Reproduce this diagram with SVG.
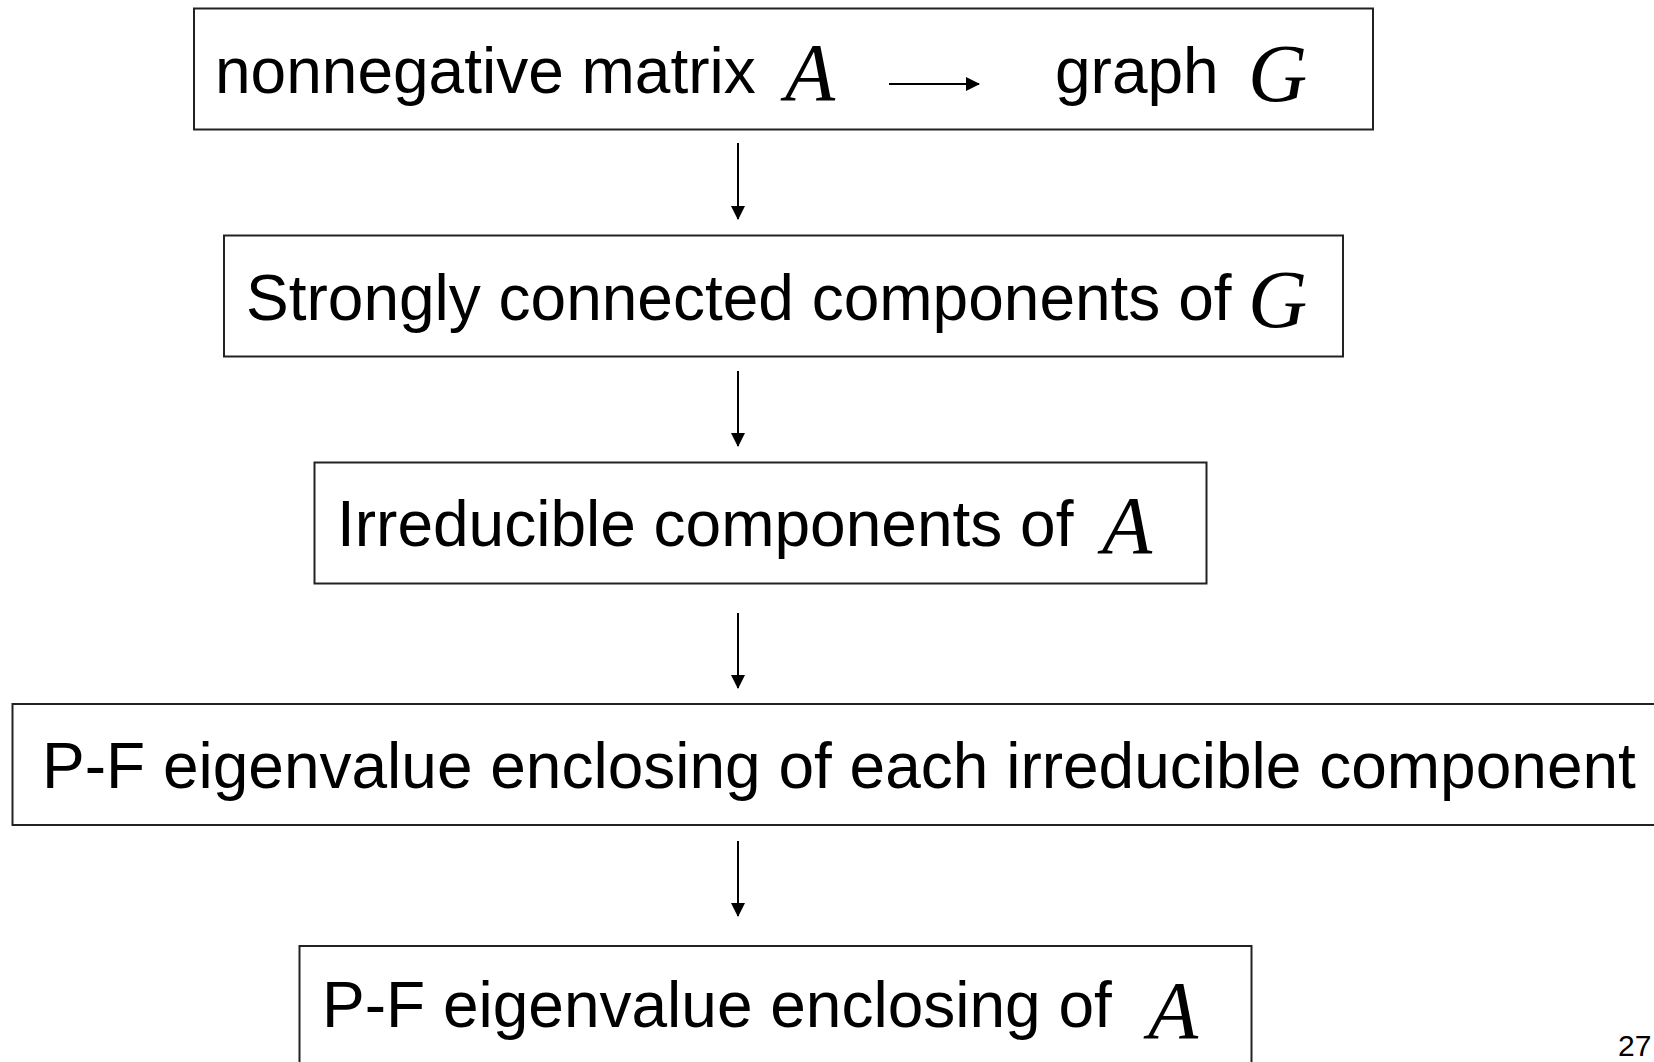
<svg xmlns="http://www.w3.org/2000/svg" width="1654" height="1062" viewBox="0 0 1654 1062">
<style>
.box{fill:#fff;stroke:#222;stroke-width:2}
.t{font-family:"Liberation Sans",Arial,sans-serif;font-size:64px;fill:#000}
.m{font-family:"Liberation Serif","Times New Roman",serif;font-style:italic;font-size:82px;fill:#000}
.c{stroke:#000;stroke-width:2;fill:none}
</style>
<defs>
<marker id="ah" markerWidth="14" markerHeight="14" refX="13" refY="7" orient="auto" markerUnits="userSpaceOnUse">
<path d="M0,0 L14,7 L0,14 Z" fill="#000"/>
</marker>
</defs>
<rect width="1654" height="1062" fill="#fff"/>
<g id="n1">
<rect class="box" x="194" y="8.5" width="1179" height="121"/>
<text class="t" x="215" y="93">nonnegative matrix</text>
<text class="m" x="785" y="100">A</text>
<line class="c" x1="889" y1="84" x2="979" y2="84" marker-end="url(#ah)"/>
<text class="t" x="1055" y="93">graph</text>
<text class="m" x="1248" y="101">G</text>
</g>
<g id="n2">
<rect class="box" x="224" y="235.5" width="1119" height="121"/>
<text class="t" x="246" y="320">Strongly connected components of</text>
<text class="m" x="1248" y="327">G</text>
</g>
<g id="n3">
<rect class="box" x="314.5" y="462.5" width="892" height="121"/>
<text class="t" x="337" y="546">Irreducible components of</text>
<text class="m" x="1102" y="553">A</text>
</g>
<g id="n4">
<rect class="box" x="12.5" y="704" width="1660" height="121"/>
<text class="t" x="42" y="788">P-F eigenvalue enclosing of each irreducible component</text>
</g>
<g id="n5">
<rect class="box" x="299.5" y="946" width="952" height="140"/>
<text class="t" x="322" y="1027">P-F eigenvalue enclosing of</text>
<text class="m" x="1148" y="1038">A</text>
</g>
<g id="connectors">
<line class="c" x1="738" y1="143" x2="738" y2="219" marker-end="url(#ah)"/>
<line class="c" x1="738" y1="371" x2="738" y2="446" marker-end="url(#ah)"/>
<line class="c" x1="738" y1="613" x2="738" y2="688" marker-end="url(#ah)"/>
<line class="c" x1="738" y1="841" x2="738" y2="916" marker-end="url(#ah)"/>
</g>
<text x="1618" y="1056" font-family="Liberation Sans,Arial,sans-serif" font-size="30" fill="#000">27</text>
</svg>
